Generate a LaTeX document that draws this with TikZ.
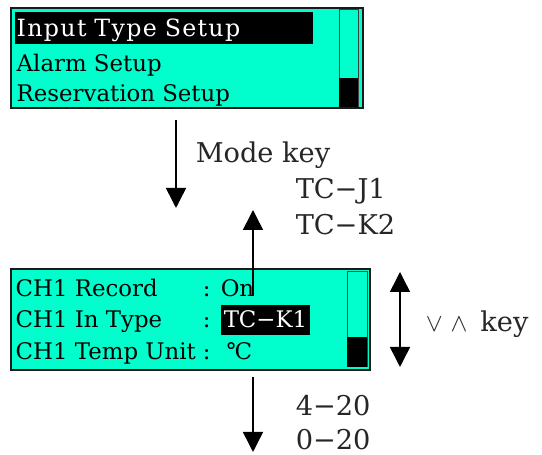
\documentclass[tikz,border=0pt]{standalone}
\usepackage{fontspec}
\setmainfont{DejaVu Serif}
\usetikzlibrary{arrows.meta}
\usetikzlibrary{positioning}
\definecolor{mint}{RGB}{0,255,204}

\begin{document}
\begin{tikzpicture}[x=0.02cm,y=-0.02cm,>={Triangle[length=0.4cm,width=0.4cm]},
					line width=0.03cm]
					\tikzstyle{screen}=[fill=mint,draw=black!90,line width=0.05cm,inner sep=0pt]
					\tikzstyle{bar}=[fill=mint,draw=black!75,line width=0.02cm]
					\tikzstyle{row}=[anchor=base west,inner sep=0pt,font=\fontsize{13}{15}\selectfont]
					\tikzstyle{hi}=[row,fill=black,text=white,text depth=0.14cm]
					\tikzstyle{label}=[anchor=base west,inner sep=0pt,text=black!85,font=\fontsize{15.5}{18}\selectfont]
					
					\useasboundingbox (0,0) rectangle (542,455);
					
					% upper screen
					\node[screen,minimum width=7.04cm,minimum height=2cm] (menu) at (187,58) {};
					\draw[bar] (339,10) rectangle (358,107);
					\fill[black] (339,78) rectangle (358,107);
					\node[hi,text height=0.5cm,inner xsep=0.04cm,text width=5.88cm,align=left,
						font=\fontsize{13.5}{16}\selectfont\addfontfeature{LetterSpace=5.5}] (m_1) at (14,37) {Input Type Setup};
					\node[row]           (m_2) at (16,72)      {Alarm Setup};
					\node[row]           (m_3) at (16,102)     {Reservation Setup};
					
					% lower screen
					\node[screen,minimum width=7.18cm,minimum height=2.02cm] (setup) at (190.5,319.5) {};
					\draw[bar] (347,272) rectangle (367,367);
					\fill[black] (347,337) rectangle (367,367);
					\node[row]           (s_1) at (15,297)     {CH1 Record};
					\node[row]           (s_2) at (15,328)     {CH1 In Type};
					\node[row]           (s_3) at (15,360)     {CH1 Temp Unit};
					\node[row]           (c_1) at (202,297)    {:};
					\node[row]           (c_2) at (202,328)    {:};
					\node[row]           (c_3) at (202,360)    {:};
					\node[row]           (v_1) at (220,297)    {On};
					\node[hi,text height=0.46cm,inner xsep=0.06cm] (v_2) at (220,328) {TC−K1};
					\node[row]           (v_3) at (226,360)    {℃};
					
					% keys
					\coordinate (mode_a) at (176,120);
					\coordinate (mode_b) at (176,208);
					\coordinate (type_a) at (253,296);
					\coordinate (type_b) at (253,210);
					\coordinate (ud_a)   at (400,272);
					\coordinate (ud_b)   at (400,367);
					\coordinate (unit_a) at (253,377);
					\coordinate (unit_b) at (253,452);
					
					\draw[->]  (mode_a) -- (mode_b);
					\draw[->]  (type_a) -- (type_b);
					\draw[<->] (ud_a)   -- (ud_b);
					\draw[->]  (unit_a) -- (unit_b);
					
					\node[label] (mode) at (195,163) {Mode key};
					\node[label] (t_1)  at (295,199) {TC−J1};
					\node[label] (t_2)  at (295,235) {TC−K2};
					\node[label] (ud)   at (425,332) {$\vee$\hspace{0.16cm}$\wedge$\hspace{0.26cm}key};
					\node[label] (u_1)  at (295,416) {4−20};
					\node[label] (u_2)  at (295,450) {0−20};
					
\end{tikzpicture}
\end{document}
